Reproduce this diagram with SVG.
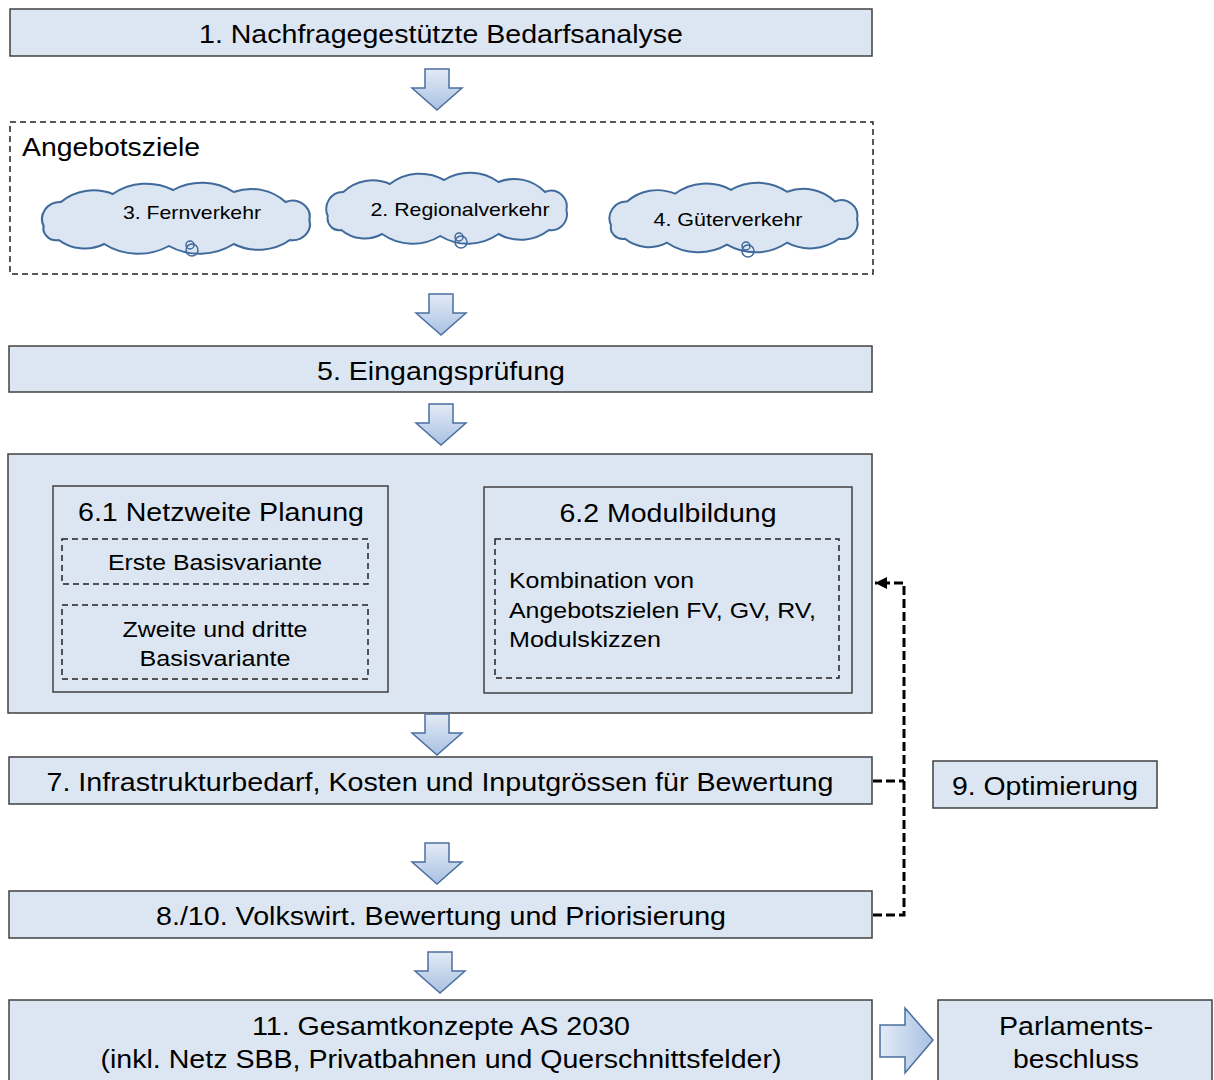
<svg xmlns="http://www.w3.org/2000/svg" xmlns:xlink="http://www.w3.org/1999/xlink" width="1214" height="1080" viewBox="0 0 1214 1080">
<style>
.box{fill:#dce6f2;stroke:#404040;stroke-width:1.5}
.dash{fill:none;stroke:#222;stroke-width:1.5;stroke-dasharray:6,4}
.t{font-family:"Liberation Sans",Arial,sans-serif;fill:#000;text-anchor:middle}
.l{font-size:25px}
.m{font-size:22px}
.s{font-size:18.5px}
.cloud{fill:#dce6f2;stroke:#3f6a9b;stroke-width:2}
.bub{fill:none;stroke:#3f6a9b;stroke-width:1.5}
.arr{fill:url(#gv);stroke:#4a6f9f;stroke-width:1.5}
.conn{fill:none;stroke:#000;stroke-width:3;stroke-dasharray:9,4}
</style>
<defs>
<linearGradient id="gv" x1="0" y1="0" x2="0" y2="1"><stop offset="0" stop-color="#e3ebf6"/><stop offset="1" stop-color="#a9c1e2"/></linearGradient>
<linearGradient id="gh" x1="0" y1="0" x2="1" y2="0"><stop offset="0" stop-color="#e3ebf6"/><stop offset="1" stop-color="#a9c1e2"/></linearGradient>
<path id="darrow" d="M-12,0 H12 V19 H25 L0,41 L-25,19 H-12 Z"/>
<path id="cloudp" d="M8,46 A17,17 0 0 1 24,22 A45,45 0 0 1 72,14 A52,52 0 0 1 128,10 A52,52 0 0 1 184,12 A45,45 0 0 1 232,22 A16,16 0 0 1 254,40 A16,16 0 0 1 236,60 A48,48 0 0 1 184,64 A56,56 0 0 1 124,66 A56,56 0 0 1 64,64 A38,38 0 0 1 22,60 A12,12 0 0 1 8,46 Z"/>
<marker id="ah" viewBox="0 0 10 10" refX="10" refY="5" markerWidth="4" markerHeight="4" orient="auto" markerUnits="strokeWidth"><path d="M0,0 L10,5 L0,10 Z" fill="#000"/></marker>
</defs>

<g id="n1"><rect class="box" x="10" y="9" width="862" height="47"/><text class="t l" x="441" y="43" textLength="484" lengthAdjust="spacingAndGlyphs">1. Nachfragegestützte Bedarfsanalyse</text></g>

<g id="angebotsziele">
<rect class="dash" x="10" y="122" width="863" height="152"/>
<text class="t l" x="22" y="156" style="text-anchor:start" textLength="178" lengthAdjust="spacingAndGlyphs">Angebotsziele</text>
</g>
<g id="n3"><use xlink:href="#cloudp" class="cloud" transform="translate(35,180) scale(1.08,1)"/><circle class="bub" cx="192" cy="250" r="6"/><circle class="bub" cx="190" cy="245" r="4"/><text class="t s" x="192" y="219" textLength="138" lengthAdjust="spacingAndGlyphs">3. Fernverkehr</text></g>
<g id="n2"><use xlink:href="#cloudp" class="cloud" transform="translate(320,170) scale(0.97,1)"/><circle class="bub" cx="461" cy="242" r="6"/><circle class="bub" cx="459" cy="237" r="4"/><text class="t s" x="460" y="216" textLength="179" lengthAdjust="spacingAndGlyphs">2. Regionalverkehr</text></g>
<g id="n4"><use xlink:href="#cloudp" class="cloud" transform="translate(603,180) scale(1.0,0.98)"/><circle class="bub" cx="748" cy="251" r="6"/><circle class="bub" cx="746" cy="246" r="4"/><text class="t s" x="728" y="226" textLength="149" lengthAdjust="spacingAndGlyphs">4. Güterverkehr</text></g>

<g id="n5"><rect class="box" x="9" y="346" width="863" height="46"/><text class="t l" x="441" y="380" textLength="248" lengthAdjust="spacingAndGlyphs">5. Eingangsprüfung</text></g>

<g id="n6">
<rect class="box" x="8" y="454" width="864" height="259"/>
<g id="n61"><rect class="box" x="53" y="486" width="335" height="206"/>
<text class="t l" x="221" y="521" textLength="286" lengthAdjust="spacingAndGlyphs">6.1 Netzweite Planung</text>
<rect class="dash" x="62" y="539" width="306" height="45"/>
<text class="t m" x="215" y="570" textLength="214" lengthAdjust="spacingAndGlyphs">Erste Basisvariante</text>
<rect class="dash" x="62" y="605" width="306" height="74"/>
<text class="t m" x="215" y="637" textLength="185" lengthAdjust="spacingAndGlyphs">Zweite und dritte</text>
<text class="t m" x="215" y="666" textLength="151" lengthAdjust="spacingAndGlyphs">Basisvariante</text>
</g>
<g id="n62"><rect class="box" x="484" y="487" width="368" height="206"/>
<text class="t l" x="668" y="522" textLength="217" lengthAdjust="spacingAndGlyphs">6.2 Modulbildung</text>
<rect class="dash" x="495" y="539" width="344" height="139"/>
<text class="t m" x="509" y="588" style="text-anchor:start" textLength="185" lengthAdjust="spacingAndGlyphs">Kombination von</text>
<text class="t m" x="509" y="618" style="text-anchor:start" textLength="307" lengthAdjust="spacingAndGlyphs">Angebotszielen FV, GV, RV,</text>
<text class="t m" x="509" y="647" style="text-anchor:start" textLength="152" lengthAdjust="spacingAndGlyphs">Modulskizzen</text>
</g>
</g>

<g id="n7"><rect class="box" x="9" y="757" width="863" height="47"/><text class="t l" x="440" y="791" textLength="787" lengthAdjust="spacingAndGlyphs">7. Infrastrukturbedarf, Kosten und Inputgrössen für Bewertung</text></g>
<g id="n9"><rect class="box" x="933" y="761" width="224" height="47"/><text class="t l" x="1045" y="795" textLength="186" lengthAdjust="spacingAndGlyphs">9. Optimierung</text></g>
<g id="n8"><rect class="box" x="9" y="891" width="863" height="47"/><text class="t l" x="441" y="925" textLength="570" lengthAdjust="spacingAndGlyphs">8./10. Volkswirt. Bewertung und Priorisierung</text></g>
<g id="n11"><rect class="box" x="9" y="1000" width="863" height="90"/><text class="t l" x="441" y="1035" textLength="378" lengthAdjust="spacingAndGlyphs">11. Gesamtkonzepte AS 2030</text><text class="t l" x="441" y="1068" textLength="681" lengthAdjust="spacingAndGlyphs">(inkl. Netz SBB, Privatbahnen und Querschnittsfelder)</text></g>
<g id="parl"><rect class="box" x="938" y="1000" width="274" height="90"/><text class="t l" x="1076" y="1035" textLength="154" lengthAdjust="spacingAndGlyphs">Parlaments-</text><text class="t l" x="1076" y="1068" textLength="126" lengthAdjust="spacingAndGlyphs">beschluss</text></g>

<g id="connectors">
<use xlink:href="#darrow" class="arr" x="437" y="69"/>
<use xlink:href="#darrow" class="arr" x="441" y="294"/>
<use xlink:href="#darrow" class="arr" x="441" y="404"/>
<use xlink:href="#darrow" class="arr" x="437" y="714"/>
<use xlink:href="#darrow" class="arr" x="437" y="843"/>
<use xlink:href="#darrow" class="arr" x="440" y="952"/>
<path d="M880,1025 H905 V1008 L933,1040 L905,1073 V1057 H880 Z" fill="url(#gh)" stroke="#4a6f9f" stroke-width="1.5"/>
<path class="conn" d="M873,781 H904"/>
<path class="conn" d="M873,915 H904 V583 H875" marker-end="url(#ah)"/>
</g>
</svg>
